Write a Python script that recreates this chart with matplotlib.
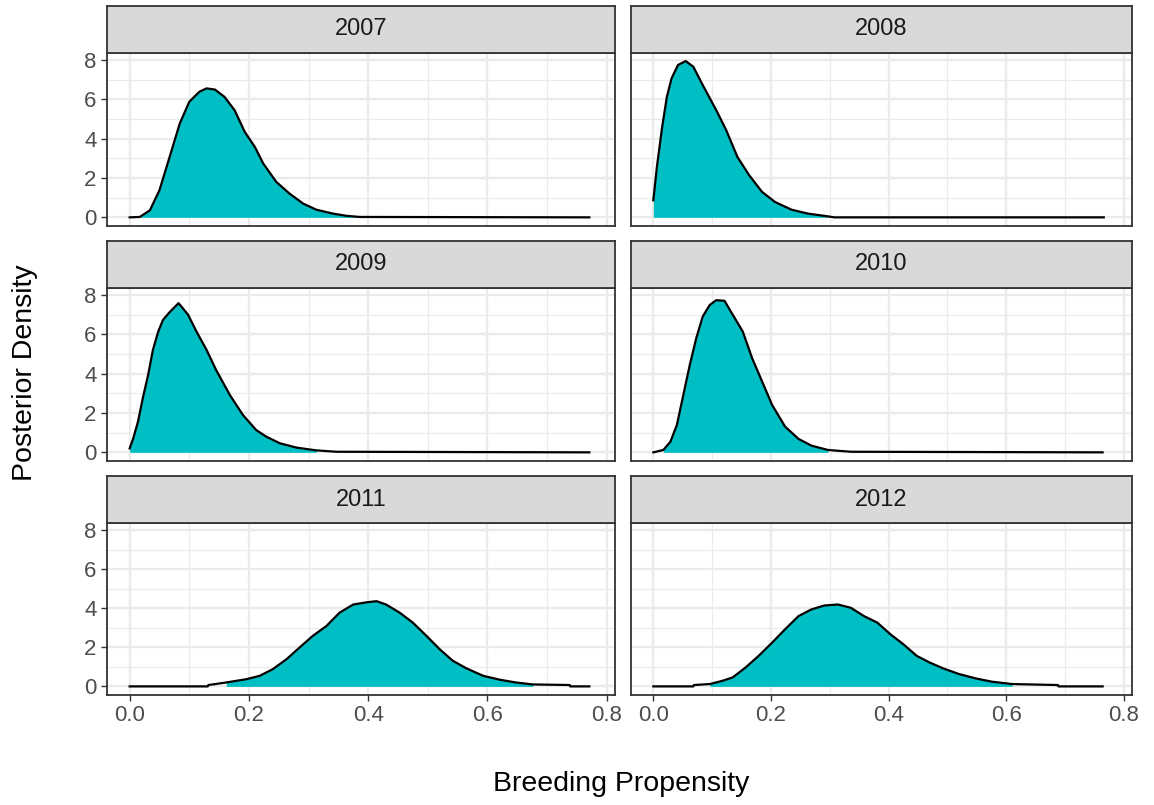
import matplotlib
matplotlib.use("Agg")
import matplotlib.pyplot as plt
import numpy as np

plt.rcParams['font.family'] = ['Liberation Sans', 'DejaVu Sans']

# posterior density curves (x = breeding propensity)
years = ['2007', '2008', '2009', '2010', '2011', '2012']

x_2007 = [0.0, 0.017, 0.034, 0.050, 0.067, 0.084, 0.100, 0.117, 0.129, 0.143, 0.159,
          0.176, 0.193, 0.210, 0.224, 0.246, 0.268, 0.291, 0.313, 0.341, 0.363, 0.386, 0.771]
d_2007 = [0.0, 0.02, 0.36, 1.38, 3.07, 4.77, 5.88, 6.39, 6.56, 6.50, 6.13,
          5.45, 4.35, 3.58, 2.74, 1.80, 1.21, 0.70, 0.39, 0.19, 0.08, 0.02, 0.0]

x_2008 = [0.0, 0.006, 0.015, 0.023, 0.031, 0.042, 0.055, 0.068, 0.084, 0.107, 0.124,
          0.143, 0.163, 0.185, 0.207, 0.235, 0.263, 0.297, 0.308, 0.766]
d_2008 = [0.87, 2.56, 4.60, 6.13, 7.07, 7.75, 7.95, 7.66, 6.73, 5.45, 4.43,
          3.07, 2.14, 1.29, 0.78, 0.39, 0.19, 0.05, 0.0, 0.0]

x_2009 = [0.0, 0.006, 0.014, 0.022, 0.031, 0.039, 0.048, 0.056, 0.067, 0.082, 0.098,
          0.112, 0.129, 0.145, 0.168, 0.190, 0.212, 0.229, 0.252, 0.280, 0.313, 0.347, 0.771]
d_2009 = [0.20, 0.71, 1.56, 2.75, 3.94, 5.21, 6.15, 6.74, 7.13, 7.59, 7.00,
          6.15, 5.21, 4.19, 2.92, 1.90, 1.14, 0.80, 0.46, 0.24, 0.10, 0.03, 0.0]

x_2010 = [0.0, 0.017, 0.029, 0.040, 0.051, 0.062, 0.073, 0.084, 0.096, 0.107, 0.121,
          0.135, 0.152, 0.168, 0.185, 0.202, 0.224, 0.247, 0.269, 0.297, 0.336, 0.764]
d_2010 = [0.0, 0.12, 0.54, 1.39, 2.92, 4.45, 5.81, 6.91, 7.50, 7.74, 7.71,
          7.00, 6.15, 4.79, 3.60, 2.41, 1.31, 0.68, 0.34, 0.12, 0.03, 0.0]

x_2011 = [0.0, 0.131, 0.132, 0.162, 0.196, 0.218, 0.240, 0.263, 0.285, 0.307, 0.330,
          0.352, 0.375, 0.397, 0.414, 0.430, 0.453, 0.475, 0.498, 0.520, 0.542, 0.565,
          0.593, 0.621, 0.648, 0.676, 0.738, 0.739, 0.771]
d_2011 = [0.0, 0.0, 0.07, 0.20, 0.37, 0.54, 0.88, 1.39, 1.99, 2.58, 3.09,
          3.77, 4.19, 4.30, 4.36, 4.19, 3.77, 3.26, 2.58, 1.90, 1.31, 0.92,
          0.54, 0.34, 0.20, 0.10, 0.07, 0.0, 0.0]

x_2012 = [0.0, 0.068, 0.069, 0.096, 0.118, 0.135, 0.157, 0.179, 0.202, 0.224, 0.247,
          0.269, 0.291, 0.314, 0.336, 0.358, 0.381, 0.403, 0.425, 0.448, 0.470, 0.493,
          0.520, 0.548, 0.576, 0.610, 0.688, 0.689, 0.764]
d_2012 = [0.0, 0.0, 0.07, 0.12, 0.29, 0.46, 0.97, 1.56, 2.24, 2.92, 3.60,
          3.94, 4.14, 4.19, 4.02, 3.60, 3.26, 2.67, 2.16, 1.56, 1.22, 0.92,
          0.63, 0.41, 0.24, 0.12, 0.07, 0.0, 0.0]

# shaded interval of each curve
fill_lo = [0.017, 0.0, 0.0, 0.017, 0.162, 0.096]
fill_hi = [0.386, 0.297, 0.313, 0.297, 0.676, 0.610]

x_ticks = [0.0, 0.2, 0.4, 0.6, 0.8]
y_ticks = [0, 2, 4, 6, 8]

curves = [(x_2007, d_2007), (x_2008, d_2008), (x_2009, d_2009),
          (x_2010, d_2010), (x_2011, d_2011), (x_2012, d_2012)]

W, H = 1154, 805
FILL = '#00BFC4'
GRID = '#EBEBEB'
BORDER = '#333333'


def box(x0, y0, x1, y1):
    return [x0 / W, 1 - y1 / H, (x1 - x0) / W, (y1 - y0) / H]


cols = [(107, 615), (631, 1132)]
rows = [((6, 53), (53, 226)), ((241, 288), (288, 461)), ((476, 523), (523, 695))]

fig = plt.figure(figsize=(W / 100, H / 100), dpi=100)

for i, (year, (xs, ds)) in enumerate(zip(years, curves)):
    r, c = divmod(i, 2)
    (sy0, sy1), (py0, py1) = rows[r]
    cx0, cx1 = cols[c]

    ax = fig.add_axes(box(cx0, py0, cx1, py1))
    xs = np.array(xs)
    ds = np.array(ds)
    m = (xs >= fill_lo[i]) & (xs <= fill_hi[i])
    ax.fill_between(xs[m], 0, ds[m], color=FILL, linewidth=0, zorder=2)
    ax.plot(xs, ds, color='black', linewidth=1.6, zorder=3, solid_joinstyle='round')

    ax.set_xlim(-0.038, 0.814)
    ax.set_ylim(-0.44, 8.36)
    ax.set_xticks(x_ticks)
    ax.set_xticks([0.1, 0.3, 0.5, 0.7], minor=True)
    ax.set_yticks(y_ticks)
    ax.set_yticks([1, 3, 5, 7], minor=True)
    ax.grid(True, which='major', color=GRID, linewidth=1.7, zorder=0)
    ax.grid(True, which='minor', color=GRID, linewidth=0.9, zorder=0)
    ax.set_axisbelow(True)
    for s in ax.spines.values():
        s.set_color(BORDER)
        s.set_linewidth(1.3)
    ax.tick_params(which='minor', length=0)
    ax.tick_params(which='major', length=4.5, width=1.0, color=BORDER,
                   labelsize=16, labelcolor='#4D4D4D', pad=3)
    ax.set_xticklabels(['0.0', '0.2', '0.4', '0.6', '0.8'])
    if c != 0:
        ax.tick_params(axis='y', left=False, labelleft=False)
    if r != 2:
        ax.tick_params(axis='x', bottom=False, labelbottom=False)

    sax = fig.add_axes(box(cx0, sy0, cx1, sy1))
    sax.set_facecolor('#D9D9D9')
    sax.set_xticks([])
    sax.set_yticks([])
    for s in sax.spines.values():
        s.set_color(BORDER)
        s.set_linewidth(1.3)
    sax.text(0.5, 0.5, year, ha='center', va='center', fontsize=17,
             color='#1A1A1A', transform=sax.transAxes)

fig.text(621 / W, 1 - 784 / H, 'Breeding Propensity', ha='center', va='center',
         fontsize=20.5, color='black')
fig.text(25 / W, 1 - 373 / H, 'Posterior Density', ha='center', va='center',
         rotation=90, fontsize=20.5, color='black')

fig.savefig('out.png', dpi=100)
